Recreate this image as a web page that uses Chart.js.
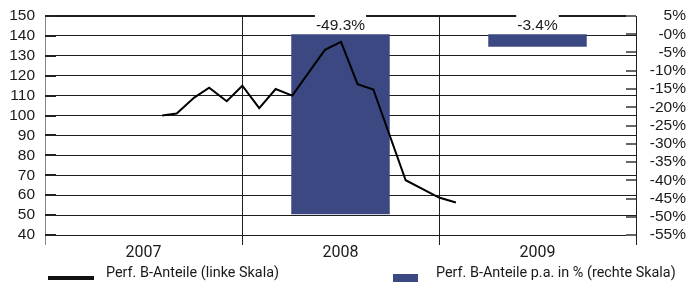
<!DOCTYPE html>
<html>
<head>
<meta charset="utf-8">
<script src="https://cdn.jsdelivr.net/npm/chart.js@4.4.1/dist/chart.umd.min.js"></script>
<style>
  html, body { margin: 0; padding: 0; background: #fff; }
  #wrap { position: relative; width: 686px; height: 282px; overflow: hidden; }
  #chart { position: absolute; left: 0; top: 0; }
  .lg { position: absolute; font-family: Roboto, sans-serif; font-size: 14.4px; line-height: 14.4px; color: #1a1a1a; white-space: nowrap; }
  .sw { position: absolute; }
</style>
</head>
<body>
<div id="wrap">
  <canvas id="chart" width="686" height="282"></canvas>
  <div class="sw" style="left:48px; top:276px; width:46px; height:4px; background:#111;"></div>
  <div class="lg" style="left:106px; top:266px;">Perf. B-Anteile (linke Skala)</div>
  <div class="sw" style="left:393px; top:274px; width:25px; height:10px; background:#3b4882;"></div>
  <div class="lg" style="left:436px; top:266px;">Perf. B-Anteile p.a. in % (rechte Skala)</div>
</div>
<script>
// Jahre (Kategorien)
const years = ["2007", "2008", "2009"];
// Balken: Performance p.a. in % (rechte Skala)
const barValues = [null, -49.3, -3.4];
const barLabels = ["", "-49.3%", "-3.4%"];
// Linie: Monate seit Jan 2007 und Wert (linke Skala)
const lineMonths = [7.14, 8.02, 9.09, 10.0, 11.07, 12.02, 13.05, 14.05, 15.06, 17.05, 18.03, 19.04, 20.0, 21.97, 24.0, 25.03];
const lineValues = [100, 101, 109, 114, 107.2, 115, 103.7, 113.3, 110, 133, 137, 115.8, 113.1, 67.5, 58.8, 56.3];
// rechte Skala Beschriftung
const rightTicks = [5, 0, -5, -10, -15, -20, -25, -30, -35, -40, -45, -50, -55];
const rightTickLabels = ["5%", "-0%", "-5%", "-10%", "-15%", "-20%", "-25%", "-30%", "-35%", "-40%", "-45%", "-50%", "-55%"];

const tickFont = { family: "'Liberation Sans', Arial, sans-serif", size: 15.5 };
const gridCol = "#1e1e1e";

// Datenbeschriftung über den Balken (mit weißem Hintergrund)
const barLabelPlugin = {
  id: "barLabel",
  afterDatasetsDraw(chart) {
    const meta = chart.getDatasetMeta(0);
    const ctx = chart.ctx;
    ctx.save();
    ctx.font = "15.5px 'Liberation Sans', Arial, sans-serif";
    ctx.textAlign = "center";
    ctx.textBaseline = "alphabetic";
    meta.data.forEach((bar, idx) => {
      if (barValues[idx] == null) return;
      const txt = barLabels[idx];
      const w = ctx.measureText(txt).width;
      const top = Math.min(bar.y, bar.base);
      ctx.fillStyle = "#fff";
      ctx.fillRect(bar.x - w / 2 - 1, top - 22, w + 2, 20);
      ctx.fillStyle = "#1a1a1a";
      ctx.fillText(txt, bar.x, top - 4);
    });
    ctx.restore();
  },
};

// kurze Striche nach innen an beiden y-Achsen
const innerTicks = {
  id: "innerTicks",
  beforeDatasetsDraw(chart) {
    const { ctx, chartArea } = chart;
    const yl = chart.scales.y;
    const yr = chart.scales.yr;
    ctx.save();
    ctx.lineWidth = 2;
    ctx.strokeStyle = "#222";
    yl.ticks.forEach((t) => {
      const py = Math.round(yl.getPixelForValue(t.value));
      ctx.beginPath();
      ctx.moveTo(chartArea.left, py);
      ctx.lineTo(chartArea.left + 11, py);
      ctx.stroke();
    });
    ctx.strokeStyle = "#666";
    yr.ticks.forEach((t) => {
      const py = Math.round(yr.getPixelForValue(t.value));
      ctx.beginPath();
      ctx.moveTo(chartArea.right - 10, py);
      ctx.lineTo(chartArea.right, py);
      ctx.stroke();
    });
    ctx.restore();
  },
};

new Chart(document.getElementById("chart"), {
  type: "bar",
  data: {
    labels: years,
    datasets: [
      {
        type: "bar",
        data: barValues,
        yAxisID: "yr",
        xAxisID: "x",
        backgroundColor: "#3b4882",
        barPercentage: 0.5,
        categoryPercentage: 1,
        grouped: false,
        order: 2,
      },
      {
        type: "line",
        data: lineMonths.map((m, k) => ({ x: m, y: lineValues[k] })),
        yAxisID: "y",
        xAxisID: "xm",
        borderColor: "#000",
        borderWidth: 2,
        pointRadius: 0,
        tension: 0,
        order: 1,
      },
    ],
  },
  options: {
    responsive: false,
    animation: false,
    layout: { padding: { top: 16, left: 0, right: 0, bottom: 0 } },
    plugins: { legend: { display: false }, tooltip: { enabled: false } },
    scales: {
      x: {
        type: "category",
        position: "bottom",
        offset: true,
        grid: {
          offset: true,
          color: (c) => (c.index === 0 ? "#888" : gridCol),
          lineWidth: 1,
          tickLength: 10,
          drawTicks: true,
        },
        border: { display: true, color: gridCol },
        ticks: {
          padding: -2,
          color: "#1a1a1a",
          font: { family: "Roboto, sans-serif", size: 16 },
        },
        afterFit(s) { s.height = 47; },
      },
      xm: { type: "linear", display: false, offset: false, min: 0, max: 36 },
      y: {
        type: "linear",
        position: "left",
        min: 40,
        max: 150,
        ticks: { stepSize: 10, autoSkip: false, padding: 0, color: "#1a1a1a", font: tickFont },
        grid: {
          color: gridCol,
          lineWidth: (c) => (c.tick && c.tick.value === 150 ? 2 : 1),
          drawTicks: true,
          tickLength: 10,
          tickColor: "rgba(0,0,0,0)",
        },
        border: { display: true, color: "#888" },
        afterFit(s) { s.width = 45; },
      },
      yr: {
        type: "linear",
        position: "right",
        min: -55,
        max: 5,
        afterBuildTicks(s) { s.ticks = rightTicks.map((v) => ({ value: v })); },
        ticks: {
          autoSkip: false,
          crossAlign: "far",
          padding: 0,
          color: "#1a1a1a",
          font: tickFont,
          callback: (v) => rightTickLabels[rightTicks.indexOf(v)],
        },
        grid: { display: false, drawTicks: true, tickLength: 13 },
        border: { display: true, color: gridCol },
        afterFit(s) { s.width = 50; },
      },
    },
  },
  plugins: [barLabelPlugin, innerTicks],
});
</script>
</body>
</html>
